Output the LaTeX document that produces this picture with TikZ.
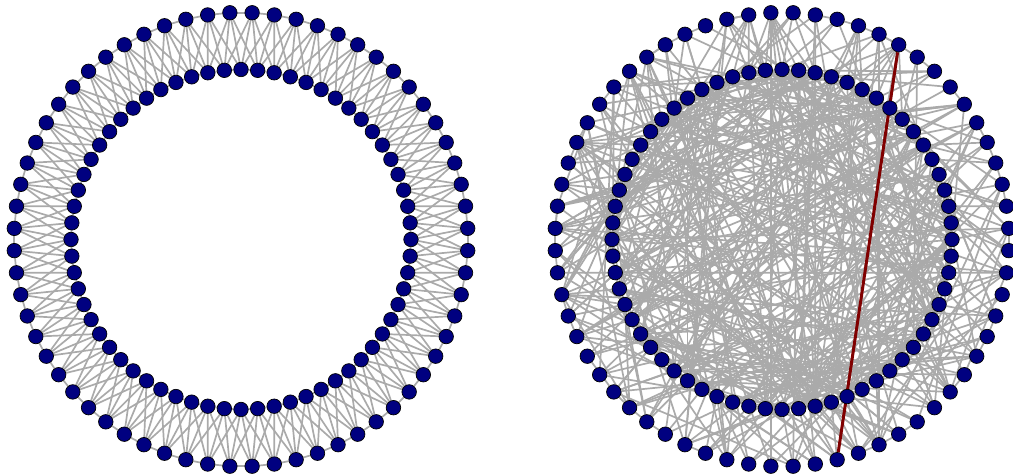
\documentclass[tikz,border=0pt]{standalone}
\usetikzlibrary{calc}
\pgfdeclarelayer{bg}
\pgfsetlayers{bg,main}
\definecolor{navyblue}{RGB}{0,0,128}
\definecolor{edgegray}{RGB}{170,170,170}
\definecolor{rededge}{RGB}{128,0,0}
\tikzset{
  vtx/.style={circle,fill=navyblue,draw=black,line width=0.7pt,inner sep=0pt,minimum size=14.5pt},
  edge/.style={draw=edgegray,line width=1.7pt},
  hot/.style={draw=rededge,line width=3pt}
}
\begin{document}
\begin{tikzpicture}[x=1pt,y=1pt]
\useasboundingbox (0,0) rectangle (1013,476);
% ---------------- left graph ----------------
\coordinate (LC) at (241,236.5);
\foreach \i in {0,...,63}{
  \pgfmathsetmacro\a{87.1875-5.625*\i}
  \node[vtx] (L\i) at ($(LC)+(\a:227)$) {};
  \pgfmathtruncatemacro\k{\i+64}
  \pgfmathsetmacro\b{90-5.625*\i}
  \node[vtx] (L\k) at ($(LC)+(\b:170)$) {};
}
% ---------------- right graph ----------------
\coordinate (RC) at (782,236.5);
\foreach \i in {0,...,63}{
  \pgfmathsetmacro\a{87.1875-5.625*\i}
  \node[vtx] (R\i) at ($(RC)+(\a:227)$) {};
  \pgfmathtruncatemacro\k{\i+64}
  \pgfmathsetmacro\b{90-5.625*\i}
  \node[vtx] (R\k) at ($(RC)+(\b:170)$) {};
}
\begin{pgfonlayer}{bg}
  % left: rings and fans
  \foreach \i in {0,...,63}{
    \pgfmathtruncatemacro\n{mod(\i+1,64)}
    \pgfmathtruncatemacro\p{\i+64}
    \pgfmathtruncatemacro\q{\n+64}
    \draw[edge] (L\i) -- (L\n);
    \draw[edge] (L\p) -- (L\q);
    \foreach \d in {-1,0,1,2}{
      \pgfmathtruncatemacro\j{mod(\i+\d+64,64)+64}
      \draw[edge] (L\i) -- (L\j);
    }
  }
  % right: rewired
  \pgfmathsetseed{20231}
  \foreach \i in {0,...,63}{
    \pgfmathtruncatemacro\n{mod(\i+1,64)}
    \pgfmathtruncatemacro\p{\i+64}
    \pgfmathtruncatemacro\q{\n+64}
    \pgfmathsetmacro\u{rnd}
    \ifdim\u pt<0.5pt
      \draw[edge] (R\i) -- (R\n);
    \else
      \pgfmathtruncatemacro\t{random(0,127)}
      \draw[edge] (R\i) -- (R\t);
    \fi
    \pgfmathsetmacro\u{rnd}
    \ifdim\u pt<0.4pt
      \draw[edge] (R\p) -- (R\q);
    \else
      \pgfmathtruncatemacro\t{random(0,127)}
      \draw[edge] (R\p) -- (R\t);
    \fi
    \foreach \d in {-1,0,1,2}{
      \pgfmathsetmacro\u{rnd}
      \ifdim\u pt<0.7pt
        \pgfmathtruncatemacro\s{random(0,127)}
        \pgfmathtruncatemacro\t{random(0,127)}
        \draw[edge] (R\s) -- (R\t);
      \else
        \pgfmathtruncatemacro\j{mod(\i+\d+64,64)+64}
        \draw[edge] (R\i) -- (R\j);
      \fi
    }
  }
  % extra random links, mostly among the inner ring
  \foreach \k in {1,...,130}{
    \pgfmathtruncatemacro\s{random(64,127)}
    \pgfmathtruncatemacro\t{random(64,127)}
    \draw[edge] (R\s) -- (R\t);
  }
  \foreach \k in {1,...,40}{
    \pgfmathtruncatemacro\s{random(0,63)}
    \pgfmathtruncatemacro\t{random(64,127)}
    \draw[edge] (R\s) -- (R\t);
  }
  \draw[hot] (R5) -- (R29);
\end{pgfonlayer}
\end{tikzpicture}
\end{document}
